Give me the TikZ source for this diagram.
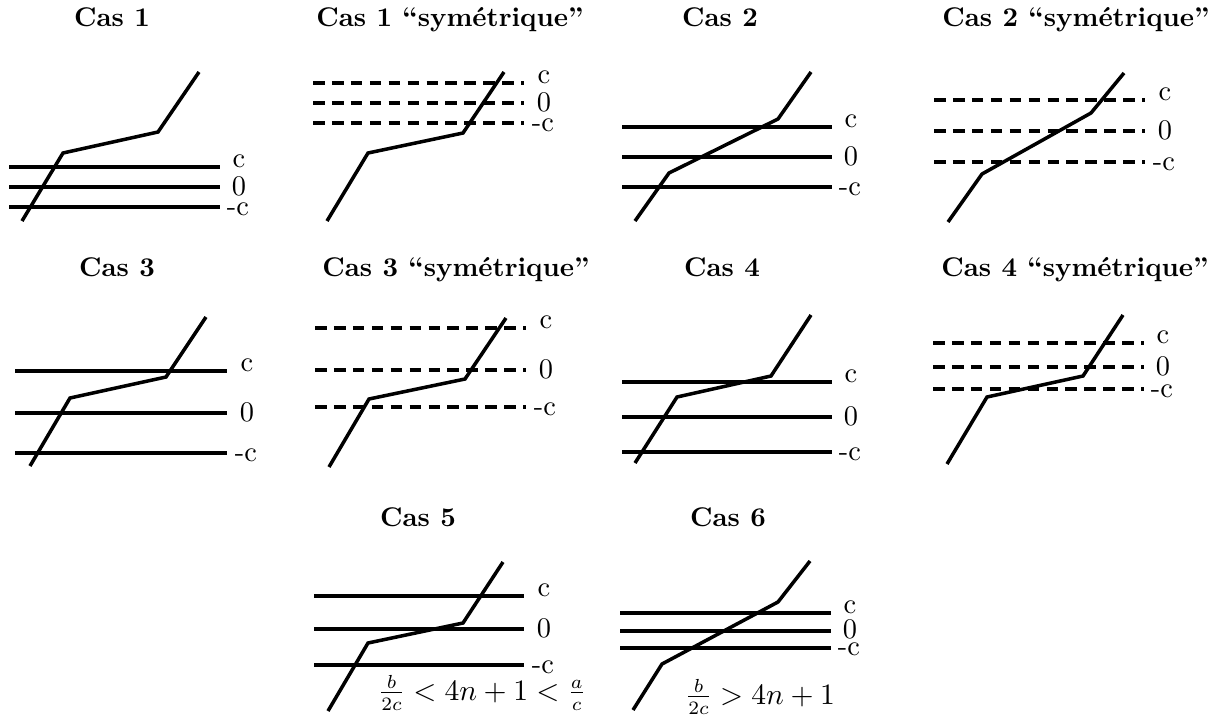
\documentclass[tikz,border=0pt]{standalone}
\begin{document}
\begin{tikzpicture}[x=0.37pt,y=-0.37pt,line width=1.3pt,
  pointille/.style={dash pattern=on 4.3pt off 2.7pt},
  titre/.style={font=\bfseries,anchor=base,inner sep=0pt},
  niveau/.style={anchor=base,inner sep=0pt,font=\fontsize{10.5}{12}\selectfont}]
\useasboundingbox (0,0) rectangle (1218,722);
% Cas 1
\node[titre] (t1) at (112,26) {Cas 1};
\draw (9,167)--(220,167) (9,187)--(220,187) (9,207)--(220,207);
\draw (22,221)--(63,153)--(158,132)--(199,72);
\node[niveau] (c1) at (239,167) {c};
\node[niveau] (z1) at (239,195) {0};
\node[niveau] (m1) at (238,215) {-c};
% Cas 1 symetrique
\node[titre] (t1s) at (450,26) {Cas 1 “symétrique”};
\draw[pointille] (313,83)--(524,83) (313,103)--(524,103) (313,123)--(524,123);
\draw (327,221)--(368,153)--(463,133)--(504,72);
\node[niveau] (c1s) at (544,83) {c};
\node[niveau] (z1s) at (544,111) {0};
\node[niveau] (m1s) at (543,131) {-c};
% Cas 2
\node[titre] (t2) at (720,26) {Cas 2};
\draw (622,127)--(832,127) (622,157)--(832,157) (622,187)--(832,187);
\draw (635,221)--(669,173)--(778,119)--(811,72);
\node[niveau] (c2) at (851,127) {c};
\node[niveau] (z2) at (851,165) {0};
\node[niveau] (m2) at (850,195) {-c};
% Cas 2 symetrique
\node[titre] (t2s) at (1076,26) {Cas 2 “symétrique”};
\draw[pointille] (934,100)--(1145,100) (934,131)--(1145,131) (934,162)--(1145,162);
\draw (948,222)--(982,174)--(1091,113)--(1124,73);
\node[niveau] (c2s) at (1165,100) {c};
\node[niveau] (z2s) at (1165,139) {0};
\node[niveau] (m2s) at (1164,170) {-c};
% Cas 3
\node[titre] (t3) at (117,276) {Cas 3};
\draw (15,371)--(227,371) (15,413)--(227,413) (15,453)--(227,453);
\draw (30,466)--(70,398)--(166,377)--(206,317);
\node[niveau] (c3) at (247,371) {c};
\node[niveau] (z3) at (247,421) {0};
\node[niveau] (m3) at (246,461) {-c};
% Cas 3 symetrique
\node[titre] (t3s) at (456,276) {Cas 3 “symétrique”};
\draw[pointille] (315,328)--(526,328) (315,370)--(526,370) (315,407)--(526,407);
\draw (329,467)--(369,399)--(465,379)--(506,318);
\node[niveau] (c3s) at (546,328) {c};
\node[niveau] (z3s) at (546,378) {0};
\node[niveau] (m3s) at (545,415) {-c};
% Cas 4
\node[titre] (t4) at (722,276) {Cas 4};
\draw (622,382)--(832,382) (622,417)--(832,417) (622,452)--(832,452);
\draw (635,463)--(677,397)--(771,376)--(811,315);
\node[niveau] (c4) at (851,382) {c};
\node[niveau] (z4) at (851,425) {0};
\node[niveau] (m4) at (850,460) {-c};
% Cas 4 symetrique
\node[titre] (t4s) at (1075,276) {Cas 4 “symétrique”};
\draw[pointille] (933,343)--(1144,343) (933,367)--(1144,367) (933,389)--(1144,389);
\draw (947,464)--(987,397)--(1083,376)--(1123,315);
\node[niveau] (c4s) at (1163,343) {c};
\node[niveau] (z4s) at (1163,375) {0};
\node[niveau] (m4s) at (1162,397) {-c};
% Cas 5
\node[titre] (t5) at (418,526) {Cas 5};
\draw (314,596)--(524,596) (314,629)--(524,629) (314,665)--(524,665);
\draw (328,711)--(368,643)--(463,623)--(503,562);
\node[niveau] (c5) at (544,596) {c};
\node[niveau] (z5) at (544,637) {0};
\node[niveau] (m5) at (543,673) {-c};
\node[niveau] (f5) at (482,700) {$\frac{b}{2c}<4n+1<\frac{a}{c}$};
% Cas 6
\node[titre] (t6) at (728,526) {Cas 6};
\draw (620,613)--(831,613) (620,631)--(831,631) (620,648)--(831,648);
\draw (633,710)--(662,664)--(778,602)--(810,561);
\node[niveau] (c6) at (850,613) {c};
\node[niveau] (z6) at (850,638) {0};
\node[niveau] (m6) at (849,655) {-c};
\node[niveau] (f6) at (760,704) {$\frac{b}{2c}>4n+1$};
\end{tikzpicture}
\end{document}
